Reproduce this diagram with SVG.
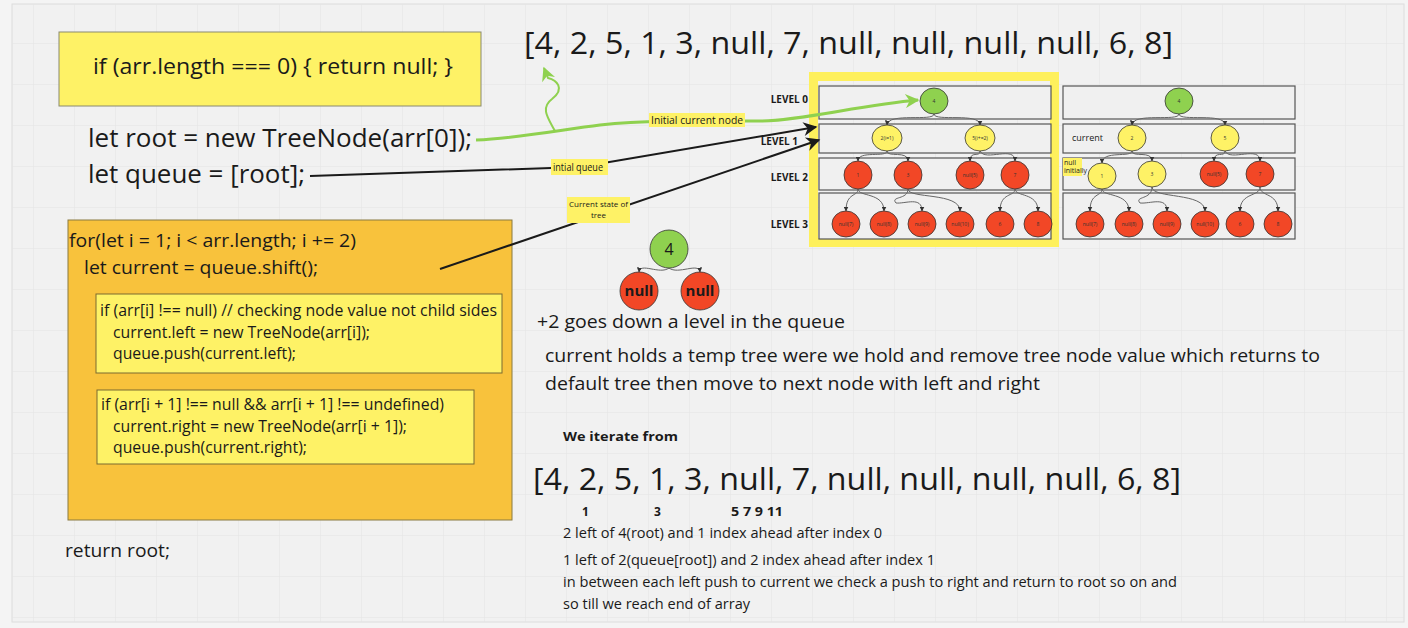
<svg xmlns="http://www.w3.org/2000/svg" width="1408" height="628" viewBox="0 0 1408 628">
<defs>
<pattern id="grid" width="41" height="41" patternUnits="userSpaceOnUse" x="33" y="2">
<path d="M0,0 H41 M0,0 V41" fill="none" stroke="#e4e4e4" stroke-width="1"/>
</pattern>
<marker id="ab" viewBox="0 0 10 10" refX="9" refY="5" markerWidth="22" markerHeight="14" markerUnits="userSpaceOnUse" orient="auto"><path d="M0,0 L10,5 L0,10 L3,5 z" fill="#1a1a1a"/></marker>
<marker id="ag" viewBox="0 0 10 10" refX="9" refY="5" markerWidth="16" markerHeight="14" markerUnits="userSpaceOnUse" orient="auto"><path d="M0,0 L10,5 L0,10 L3,5 z" fill="#8fd14f"/></marker>
<marker id="as" viewBox="0 0 10 10" refX="9" refY="5" markerWidth="5" markerHeight="5" markerUnits="userSpaceOnUse" orient="auto"><path d="M0,0 L10,5 L0,10 z" fill="#333"/></marker>
</defs>
<style>
text{font-family:"Open Sans","Liberation Sans",sans-serif;fill:#1a1a1a}
.code{font-size:25px}
.small{font-size:16px}
.mid{font-size:18px}
.lvl{font-size:10px;font-weight:bold;text-anchor:end}
.bar{fill:#f0f0f0;stroke:#555;stroke-width:1.2}
.r{fill:#f24726;stroke:#333;stroke-width:0.8}
.y{fill:#fef266;stroke:#333;stroke-width:0.8}
.g{fill:#8fd14f;stroke:#333;stroke-width:0.8}
.nl{font-size:5px;text-anchor:middle;fill:#333}
.tc{fill:none;stroke:#666;stroke-width:1}
.lab{fill:#fef266}
.lt{font-size:10px}
</style>
<rect width="1408" height="628" fill="#f4f4f4"/>
<rect x="12" y="4" width="1392" height="618" fill="#f1f1f1" stroke="#dcdcdc"/>
<rect x="12" y="4" width="1392" height="618" fill="url(#grid)"/>

<g id="node-empty-check">
<rect x="59" y="32" width="422" height="74" fill="#fef266" stroke="#8a8a70"/>
<text x="93" y="74" font-size="22" textLength="360" lengthAdjust="spacingAndGlyphs">if (arr.length === 0) { return null; }</text>
</g>

<g id="node-root-init">
<text class="code" x="88" y="147" textLength="384" lengthAdjust="spacingAndGlyphs">let root = new TreeNode(arr[0]);</text>
</g>
<g id="node-queue-init">
<text class="code" x="88" y="183" textLength="217" lengthAdjust="spacingAndGlyphs">let queue = [root];</text>
</g>

<g id="node-loop">
<rect x="68" y="220" width="444" height="300" fill="#f8c23c" stroke="#8a7a40"/>
<text class="mid" x="69" y="247" textLength="287" lengthAdjust="spacingAndGlyphs">for(let i = 1; i &lt; arr.length; i += 2)</text>
<text class="mid" x="84" y="274" textLength="234" lengthAdjust="spacingAndGlyphs">let current = queue.shift();</text>
</g>
<g id="node-left-check">
<rect x="96" y="294" width="406" height="79" fill="#fef266" stroke="#7a6a30"/>
<text class="small" x="100" y="316" textLength="397" lengthAdjust="spacingAndGlyphs">if (arr[i] !== null) // checking node value not child sides</text>
<text class="small" x="113" y="338" textLength="257" lengthAdjust="spacingAndGlyphs">current.left = new TreeNode(arr[i]);</text>
<text class="small" x="113" y="359" textLength="183" lengthAdjust="spacingAndGlyphs">queue.push(current.left);</text>
</g>
<g id="node-right-check">
<rect x="97" y="390" width="377" height="74" fill="#fef266" stroke="#7a6a30"/>
<text class="small" x="101" y="410" textLength="343" lengthAdjust="spacingAndGlyphs">if (arr[i + 1] !== null &amp;&amp; arr[i + 1] !== undefined)</text>
<text class="small" x="113" y="432" textLength="294" lengthAdjust="spacingAndGlyphs">current.right = new TreeNode(arr[i + 1]);</text>
<text class="small" x="113" y="453" textLength="194" lengthAdjust="spacingAndGlyphs">queue.push(current.right);</text>
</g>
<g id="node-return">
<text x="65" y="557" font-size="19" textLength="105" lengthAdjust="spacingAndGlyphs">return root;</text>
</g>

<g id="node-array-top">
<text x="524" y="54" font-size="31" textLength="649" lengthAdjust="spacingAndGlyphs">[4, 2, 5, 1, 3, null, 7, null, null, null, null, 6, 8]</text>
</g>

<g id="node-tree-left">
<rect x="813.5" y="76.5" width="241" height="166" fill="none" stroke="#fef05c" stroke-width="9"/>
<rect class="bar" x="819" y="86" width="232" height="33"/>
<rect class="bar" x="819" y="124" width="232" height="29"/>
<rect class="bar" x="819" y="158" width="232" height="32"/>
<rect class="bar" x="819" y="193" width="232" height="46"/>
<text class="lvl" x="808" y="103">LEVEL 0</text>
<text class="lvl" x="798" y="145">LEVEL 1</text>
<text class="lvl" x="808" y="181">LEVEL 2</text>
<text class="lvl" x="808" y="228">LEVEL 3</text>
<path class="tc" marker-end="url(#as)" d="M934,114 C934,122 888,112 887,125"/>
<path class="tc" marker-end="url(#as)" d="M934,114 C934,122 980,112 980,125"/>
<path class="tc" marker-end="url(#as)" d="M887,151 C887,158 858,150 858,161"/>
<path class="tc" marker-end="url(#as)" d="M887,151 C887,158 908,150 908,161"/>
<path class="tc" marker-end="url(#as)" d="M980,151 C980,158 970,150 970,161"/>
<path class="tc" marker-end="url(#as)" d="M980,151 C985,162 1015,145 1015,161"/>
<path class="tc" marker-end="url(#as)" d="M858,189 C858,197 846,192 846,211"/>
<path class="tc" marker-end="url(#as)" d="M858,189 C858,197 884,192 884,211"/>
<path class="tc" marker-end="url(#as)" d="M908,189 C908,200 890,196 896,203 C905,204 922,196 922,211"/>
<path class="tc" marker-end="url(#as)" d="M908,189 C908,199 960,192 960,211"/>
<path class="tc" marker-end="url(#as)" d="M1015,189 C1015,197 1000,192 1000,211"/>
<path class="tc" marker-end="url(#as)" d="M1015,189 C1015,197 1038,192 1038,211"/>
<ellipse class="g" cx="934" cy="101" rx="14" ry="13"/><text class="nl" x="934" y="103">4</text>
<ellipse class="y" cx="887" cy="138" rx="15" ry="13"/><text class="nl" x="887" y="140">2(i=1)</text>
<ellipse class="y" cx="980" cy="138" rx="15" ry="13"/><text class="nl" x="980" y="140">5(i+=2)</text>
<ellipse class="r" cx="858" cy="175" rx="14" ry="14"/><text class="nl" x="858" y="177">1</text>
<ellipse class="r" cx="908" cy="175" rx="14" ry="14"/><text class="nl" x="908" y="177">3</text>
<ellipse class="r" cx="970" cy="175" rx="14" ry="14"/><text class="nl" x="970" y="177">null(5)</text>
<ellipse class="r" cx="1015" cy="175" rx="14" ry="14"/><text class="nl" x="1015" y="177">7</text>
<ellipse class="r" cx="846" cy="224" rx="14" ry="13"/><text class="nl" x="846" y="226">null(7)</text>
<ellipse class="r" cx="884" cy="224" rx="14" ry="13"/><text class="nl" x="884" y="226">null(8)</text>
<ellipse class="r" cx="922" cy="224" rx="14" ry="13"/><text class="nl" x="922" y="226">null(9)</text>
<ellipse class="r" cx="960" cy="224" rx="14" ry="13"/><text class="nl" x="960" y="226">null(10)</text>
<ellipse class="r" cx="1000" cy="224" rx="14" ry="13"/><text class="nl" x="1000" y="226">6</text>
<ellipse class="r" cx="1038" cy="224" rx="14" ry="13"/><text class="nl" x="1038" y="226">8</text>
</g>

<g id="node-tree-right">
<rect class="bar" x="1063" y="86" width="232" height="33"/>
<rect class="bar" x="1063" y="124" width="232" height="29"/>
<rect class="bar" x="1063" y="158" width="232" height="32"/>
<rect class="bar" x="1063" y="193" width="232" height="46"/>
<text x="1072" y="141" font-size="9" fill="#333">current</text>
<rect class="lab" x="1063" y="158" width="19" height="18"/>
<text x="1064" y="165" font-size="7">null</text>
<text x="1064" y="173" font-size="7">initially</text>
<path class="tc" marker-end="url(#as)" d="M1179,114 C1179,122 1133,112 1132,125"/>
<path class="tc" marker-end="url(#as)" d="M1179,114 C1179,122 1225,112 1225,125"/>
<path class="tc" marker-end="url(#as)" d="M1132,151 C1132,158 1102,150 1102,163"/>
<path class="tc" marker-end="url(#as)" d="M1132,151 C1132,158 1152,150 1152,161"/>
<path class="tc" marker-end="url(#as)" d="M1225,151 C1225,158 1214,150 1214,161"/>
<path class="tc" marker-end="url(#as)" d="M1225,151 C1230,162 1260,145 1260,161"/>
<path class="tc" marker-end="url(#as)" d="M1102,189 C1102,197 1090,192 1090,211"/>
<path class="tc" marker-end="url(#as)" d="M1102,189 C1102,197 1129,192 1129,211"/>
<path class="tc" marker-end="url(#as)" d="M1152,187 C1152,200 1134,196 1140,203 C1150,204 1167,196 1167,211"/>
<path class="tc" marker-end="url(#as)" d="M1152,187 C1152,199 1205,192 1205,211"/>
<path class="tc" marker-end="url(#as)" d="M1260,187 C1260,197 1240,192 1240,211"/>
<path class="tc" marker-end="url(#as)" d="M1260,187 C1260,197 1278,192 1278,211"/>
<ellipse class="g" cx="1179" cy="101" rx="14" ry="13"/><text class="nl" x="1179" y="103">4</text>
<ellipse class="y" cx="1132" cy="138" rx="14" ry="13"/><text class="nl" x="1132" y="140">2</text>
<ellipse class="y" cx="1225" cy="138" rx="14" ry="13"/><text class="nl" x="1225" y="140">5</text>
<ellipse class="y" cx="1102" cy="176" rx="14" ry="13"/><text class="nl" x="1102" y="178">1</text>
<ellipse class="y" cx="1152" cy="174" rx="14" ry="13"/><text class="nl" x="1152" y="176">3</text>
<ellipse class="r" cx="1214" cy="174" rx="14" ry="13"/><text class="nl" x="1214" y="176">null(5)</text>
<ellipse class="r" cx="1260" cy="174" rx="14" ry="13"/><text class="nl" x="1260" y="176">7</text>
<ellipse class="r" cx="1090" cy="224" rx="14" ry="13"/><text class="nl" x="1090" y="226">null(7)</text>
<ellipse class="r" cx="1129" cy="224" rx="14" ry="13"/><text class="nl" x="1129" y="226">null(8)</text>
<ellipse class="r" cx="1167" cy="224" rx="14" ry="13"/><text class="nl" x="1167" y="226">null(9)</text>
<ellipse class="r" cx="1205" cy="224" rx="14" ry="13"/><text class="nl" x="1205" y="226">null(10)</text>
<ellipse class="r" cx="1240" cy="224" rx="14" ry="13"/><text class="nl" x="1240" y="226">6</text>
<ellipse class="r" cx="1278" cy="224" rx="14" ry="13"/><text class="nl" x="1278" y="226">8</text>
</g>

<g id="node-mini-tree">
<path class="tc" marker-end="url(#as)" d="M669,268 C660,275 640,262 639,272"/>
<path class="tc" marker-end="url(#as)" d="M669,268 C678,275 699,262 700,272"/>
<circle class="g" cx="669" cy="249" r="19"/>
<text x="669" y="255" font-size="16" text-anchor="middle">4</text>
<circle class="r" cx="639" cy="291" r="19"/>
<text x="639" y="296" font-size="15" font-weight="bold" text-anchor="middle">null</text>
<circle class="r" cx="700" cy="291" r="19"/>
<text x="700" y="296" font-size="15" font-weight="bold" text-anchor="middle">null</text>
</g>

<g id="node-notes">
<text x="537" y="328" font-size="18" textLength="308" lengthAdjust="spacingAndGlyphs">+2 goes down a level in the queue</text>
<text x="545" y="362" font-size="18" textLength="775" lengthAdjust="spacingAndGlyphs">current holds a temp tree were we hold and remove tree node value which returns to</text>
<text x="545" y="390" font-size="18" textLength="495" lengthAdjust="spacingAndGlyphs">default tree then move to next node with left and right</text>
<text x="563" y="441" font-size="13" font-weight="bold" textLength="115" lengthAdjust="spacingAndGlyphs">We iterate from</text>
<text x="533" y="490" font-size="31" textLength="648" lengthAdjust="spacingAndGlyphs">[4, 2, 5, 1, 3, null, 7, null, null, null, null, 6, 8]</text>
<text x="582" y="516" font-size="12" font-weight="bold">1</text>
<text x="654" y="516" font-size="12" font-weight="bold">3</text>
<text x="731" y="516" font-size="12" font-weight="bold" textLength="52" lengthAdjust="spacingAndGlyphs">5 7 9 11</text>
<text x="563" y="538" font-size="14" textLength="319" lengthAdjust="spacingAndGlyphs">2 left of 4(root) and 1 index ahead after index 0</text>
<text x="563" y="565" font-size="14" textLength="372" lengthAdjust="spacingAndGlyphs">1 left of 2(queue[root]) and 2 index ahead after index 1</text>
<text x="563" y="587" font-size="14" textLength="614" lengthAdjust="spacingAndGlyphs">in between each left push to current we check a push to right and return to root so on and</text>
<text x="563" y="609" font-size="14" textLength="187" lengthAdjust="spacingAndGlyphs">so till we reach end of array</text>
</g>

<g id="connectors">
<path d="M476,140 C520,138 560,130 600,125 C650,120 700,121 760,121 C800,121 860,105 918,100" fill="none" stroke="#8fd14f" stroke-width="3" marker-end="url(#ag)"/>
<path d="M555,131 C548,118 540,108 552,99 C566,88 556,80 548,78 L544,68" fill="none" stroke="#8fd14f" stroke-width="2" marker-end="url(#ag)"/>
<rect class="lab" x="649" y="113" width="96" height="14"/>
<text class="lt" x="651" y="124" textLength="92" lengthAdjust="spacingAndGlyphs">Initial current node</text>
<path d="M310,176 L580,167 L816,127" fill="none" stroke="#1a1a1a" stroke-width="2" marker-end="url(#ab)"/>
<rect class="lab" x="551" y="159" width="57" height="16"/>
<text x="553" y="171" font-size="10" textLength="50" lengthAdjust="spacingAndGlyphs">intial queue</text>
<path d="M440,269 L819,140" fill="none" stroke="#1a1a1a" stroke-width="2" marker-end="url(#ab)"/>
<rect class="lab" x="567" y="197" width="63" height="26"/>
<text x="598.5" y="207" font-size="8" text-anchor="middle">Current state of</text>
<text x="598.5" y="218" font-size="8" text-anchor="middle">tree</text>
</g>
</svg>
